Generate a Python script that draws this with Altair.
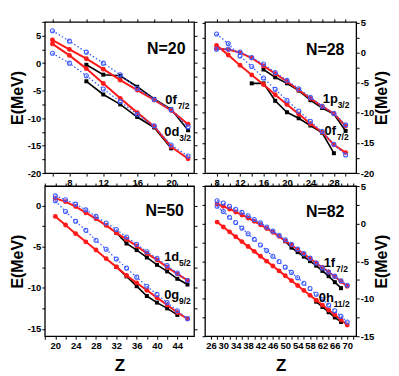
import altair as alt
import pandas as pd

FONT = "Liberation Sans"
RED = "#ff1a1a"
BLUE = "#3d5cff"
BLACK = "#000000"

# ---------------- N=20 ----------------
z20 = [6, 8, 10, 12, 14, 16, 18, 20, 22]
blue20_f = [5.9, 4.0, 2.0, 0.0, -2.1, -4.6, -6.6, -8.5, -11.6]
red20_f = [4.2, 2.5, 0.8, -1.1, -3.1, -4.9, -6.7, -8.6, -11.1]
blk20_f_z = [10, 12, 14, 16, 18, 20, 22]
blk20_f = [-0.3, -2.1, -2.3, -4.3, -6.5, -8.4, -12.2]
blue20_d = [1.8, 0.0, -2.3, -4.7, -7.0, -9.3, -11.4, -14.9, -16.9]
red20_d = [3.5, 1.4, -1.0, -3.7, -6.4, -9.0, -11.5, -15.2, -17.4]
blk20_d_z = [10, 12, 14, 16, 18, 20]
blk20_d = [-3.3, -5.7, -7.5, -9.8, -11.7, -15.5]

# ---------------- N=28 ----------------
z28 = [8, 10, 12, 14, 16, 18, 20, 22, 24, 26, 28, 30]
blue28_f = [3.1, 1.5, -0.55, -2.3, -4.2, -6.1, -7.9, -9.7, -11.4, -13.1, -15.2, -17.0]
blue28_p = [0.55, 0.6, 0.1, -0.8, -1.9, -3.3, -4.6, -6.0, -7.4, -8.9, -10.1, -12.0]
red28_p = [0.7, 0.5, 0.0, -0.9, -2.2, -3.5, -4.8, -6.2, -7.6, -8.9, -10.1, -12.2]
red28_f = [1.2, -0.4, -2.1, -3.7, -5.3, -7.0, -8.6, -10.2, -11.8, -13.2, -15.3, -16.6]
blk28_p_z = [16, 18, 20, 22, 24, 26, 28, 30]
blk28_p = [-2.8, -4.1, -5.1, -6.3, -7.9, -9.2, -10.2, -13.0]
blk28_f_z = [14, 16, 18, 20, 22, 24, 26, 28]
blk28_f = [-5.1, -5.1, -8.0, -9.9, -10.9, -12.1, -13.3, -16.7]

# ---------------- N=50 ----------------
z50 = [20, 22, 24, 26, 28, 30, 32, 34, 36, 38, 40, 42, 44, 46]
blue50_d = [1.2, 0.73, 0.2, -0.5, -1.3, -2.1, -2.9, -3.8, -4.7, -5.6, -6.4, -7.3, -8.2, -9.1]
red50_d = [0.9, 0.5, -0.1, -0.85, -1.6, -2.4, -3.3, -4.1, -4.9, -5.8, -6.6, -7.5, -8.3, -9.1]
blk50_d_z = [32, 34, 36, 38, 40, 42, 44, 46]
blk50_d = [-3.3, -4.6, -5.4, -6.3, -7.2, -8.0, -8.9, -9.6]
blue50_g = [0.6, -0.7, -1.9, -3.0, -4.2, -5.3, -6.5, -7.6, -8.7, -9.8, -10.8, -11.8, -12.8, -13.75]
red50_g = [-1.3, -2.35, -3.4, -4.4, -5.4, -6.45, -7.45, -8.5, -9.4, -10.3, -11.2, -12.1, -13.0, -13.8]
blk50_g_z = [32, 34, 36, 38, 40, 42, 44]
blk50_g = [-7.45, -8.6, -9.8, -11.0, -11.8, -12.5, -13.3]

# ---------------- N=82 ----------------
z82 = [28, 30, 32, 34, 36, 38, 40, 42, 44, 46, 48, 50, 52, 54, 56, 58, 60, 62, 64, 66, 68, 70]
blue82_f = [3.05, 2.75, 2.3, 1.9, 1.5, 1.05, 0.55, 0.1, -0.45, -1.0, -1.55, -2.15, -2.75, -3.4,
            -4.0, -4.6, -5.25, -5.9, -6.45, -7.0, -7.6, -8.2]
red82_f = [2.6, 2.3, 1.95, 1.55, 1.15, 0.75, 0.3, -0.15, -0.65, -1.15, -1.7, -2.3, -2.85, -3.45,
           -4.05, -4.65, -5.25, -5.85, -6.45, -7.05, -7.7, -8.35]
blk82_f_z = [50, 52, 54, 56, 58, 60, 62, 64, 66, 68]
blk82_f = [-2.35, -3.2, -3.8, -4.4, -5.0, -5.6, -6.3, -7.0, -7.8, -8.6]
blue82_h = [2.3, 1.6, 0.85, 0.15, -0.6, -1.35, -2.1, -2.85, -3.6, -4.35, -5.05, -5.8, -6.5, -7.2,
            -7.95, -8.65, -9.4, -10.1, -10.85, -11.6, -12.35, -13.1]
red82_h = [0.2, -0.45, -1.1, -1.75, -2.4, -3.05, -3.7, -4.35, -5.0, -5.65, -6.3, -6.95, -7.6, -8.25,
           -8.9, -9.55, -10.2, -10.85, -11.5, -12.15, -12.8, -13.5]
blk82_h_z = [60, 62, 64, 66, 68]
blk82_h = [-10.4, -11.1, -11.8, -12.5, -13.1]


def ser(z, e, kind, lvl):
    return pd.DataFrame({"Z": z, "E": e, "kind": kind, "lvl": lvl})


def panel(frames, xdom, ydom, xvals, xstart, yvals, yorient, xtitle, w, h, tag, labels):
    df = pd.concat(frames, ignore_index=True)
    xs = alt.Scale(domain=xdom, nice=False, zero=False)
    ys = alt.Scale(domain=ydom, nice=False, zero=False)

    def enc(ch):
        return ch.encode(x=alt.X("Z:Q", scale=xs, axis=None),
                         y=alt.Y("E:Q", scale=ys, axis=None))

    layers = []
    for kind in ["black", "red", "blue"]:
        base = alt.Chart(df[df.kind == kind])
        if kind == "black":
            ln = base.mark_line(color=BLACK, strokeWidth=1.6)
            pt = base.mark_square(color=BLACK, size=16, opacity=1)
        elif kind == "red":
            ln = base.mark_line(color=RED, strokeWidth=2)
            pt = base.mark_circle(color=RED, size=24, opacity=1)
        else:
            ln = base.mark_line(color=BLUE, strokeWidth=1.3, strokeDash=[1.5, 2.2])
            pt = base.mark_point(shape="circle", filled=False, color=BLUE, size=16,
                                 strokeWidth=1.1, opacity=1)
        layers.append(enc(ln).encode(detail="lvl:N"))
        layers.append(enc(pt))

    xlab = f"(datum.value - {xstart}) % 4 == 0 ? toString(datum.value) : ''"
    ylab = "datum.value % 5 == 0 ? toString(datum.value) : ''"
    yother = "left" if yorient == "right" else "right"
    if yorient == "right":
        ytitle_kw = dict(titleAngle=270, titleBaseline="top", titlePadding=0)
    else:
        ytitle_kw = dict(titleAngle=270, titlePadding=2)
    xaxis_kw = dict(orient="bottom", values=xvals, labelExpr=xlab)
    if xtitle:
        xaxis_kw.update(title=xtitle, titlePadding=8, titleFontSize=17)
    else:
        xaxis_kw.update(title=None)
    main_axis = alt.Chart(df).mark_point(opacity=0).encode(
        x=alt.X("Z:Q", scale=xs, axis=alt.Axis(**xaxis_kw)),
        y=alt.Y("E:Q", scale=ys, axis=alt.Axis(orient=yorient, values=yvals, labelExpr=ylab,
                                               title="E(MeV)", **ytitle_kw)),
    )
    mirror_axis = alt.Chart(df).mark_point(opacity=0).encode(
        x=alt.X("Z:Q", scale=xs, axis=alt.Axis(orient="top", values=xvals, labels=False, title=None)),
        y=alt.Y("E:Q", scale=ys, axis=alt.Axis(orient=yother, values=yvals, labels=False, title=None)),
    )

    tdf = pd.DataFrame({"Z": [tag[0]], "E": [tag[1]], "t": [tag[2]]})
    tag_layer = enc(alt.Chart(tdf).mark_text(align="right", baseline="middle", font=FONT,
                                             fontSize=16, fontWeight="bold", color=BLACK)).encode(text="t:N")
    lab_layers = []
    for (zx, ey, main, sub, dx) in labels:
        ldf = pd.DataFrame({"Z": [zx], "E": [ey], "m": [main], "s": [sub]})
        lab_layers.append(enc(alt.Chart(ldf).mark_text(align="left", baseline="alphabetic", font=FONT,
                                                       fontSize=13, fontWeight="bold", color=BLACK)).encode(text="m:N"))
        lab_layers.append(enc(alt.Chart(ldf).mark_text(align="left", baseline="alphabetic", font=FONT,
                                                       fontSize=8.5, fontWeight="bold", color=BLACK,
                                                       dx=dx, dy=5)).encode(text="s:N"))

    return alt.layer(main_axis, mirror_axis, *layers, tag_layer, *lab_layers).resolve_axis(
        x="independent", y="independent").properties(width=w, height=h)


def rng(a, b, step):
    out = []
    v = a
    while v <= b + 1e-9:
        out.append(v)
        v += step
    return out


p1 = panel([ser(z20, blue20_f, "blue", "bf"), ser(z20, blue20_d, "blue", "bd"),
            ser(z20, red20_f, "red", "rf"), ser(z20, red20_d, "red", "rd"),
            ser(blk20_f_z, blk20_f, "black", "kf"), ser(blk20_d_z, blk20_d, "black", "kd")],
           [5.1, 22.7], [-20, 7.5], rng(6, 22, 2), 8, rng(-20, 7.5, 2.5), "left", "", 150, 152,
           (21.7, 2.5, "N=20"),
           [(19.3, -7.45, "0f", "7/2", 12.5), (19.2, -13.24, "0d", "3/2", 15)])

p2 = panel([ser(z28, blue28_f, "blue", "bf"), ser(z28, blue28_p, "blue", "bp"),
            ser(z28, red28_p, "red", "rp"), ser(z28, red28_f, "red", "rf"),
            ser(blk28_p_z, blk28_p, "black", "kp"), ser(blk28_f_z, blk28_f, "black", "kf")],
           [6.03, 31.8], [-20, 5.1], rng(8, 30, 2), 8, rng(-20, 5, 2.5), "right", "", 152, 152,
           (29.8, 0.5, "N=28"),
           [(26.1, -8.3, "1p", "3/2", 15), (26.4, -13.7, "0f", "7/2", 12.5)])

p3 = panel([ser(z50, blue50_d, "blue", "bd"), ser(z50, blue50_g, "blue", "bg"),
            ser(z50, red50_d, "red", "rd"), ser(z50, red50_g, "red", "rg"),
            ser(blk50_d_z, blk50_d, "black", "kd"), ser(blk50_g_z, blk50_g, "black", "kg")],
           [17.93, 47.28], [-15.9, 2.4], rng(18, 46, 2), 20, rng(-15, 2.5, 2.5), "left", "Z", 150, 151,
           (45.3, -0.68, "N=50"),
           [(41.4, -6.72, "1d", "5/2", 15), (41.4, -11.35, "0g", "9/2", 15)])

p4 = panel([ser(z82, blue82_f, "blue", "bf"), ser(z82, blue82_h, "blue", "bh"),
            ser(z82, red82_f, "red", "rf"), ser(z82, red82_h, "red", "rh"),
            ser(blk82_f_z, blk82_f, "black", "kf"), ser(blk82_h_z, blk82_h, "black", "kh")],
           [24.08, 72.9], [-15, 5], rng(26, 72, 2), 26, rng(-15, 5, 2.5), "right", "Z", 152, 151,
           (69.1, 1.6, "N=82"),
           [(62.4, -5.73, "1f", "7/2", 12.5), (60.8, -10.47, "0h", "11/2", 15)])

chart = alt.concat(p1, p2, p3, p4, columns=2, spacing={"row": 13, "column": 11},
                   bounds="flush").properties(
    padding={"left": 0, "top": 7, "right": 0, "bottom": 0}
).configure_view(stroke="black", strokeWidth=1.3).configure_axis(
    labelFont=FONT, titleFont=FONT, labelFontWeight="bold", titleFontWeight="bold",
    labelFontSize=9.5, titleFontSize=16, tickColor="black", tickSize=3, domain=False, grid=False,
    labelColor="black", titleColor="black", labelOverlap=False, labelFlush=False, labelPadding=1,
)

chart.save("out.html", embed_options={"renderer": "svg", "actions": False})
